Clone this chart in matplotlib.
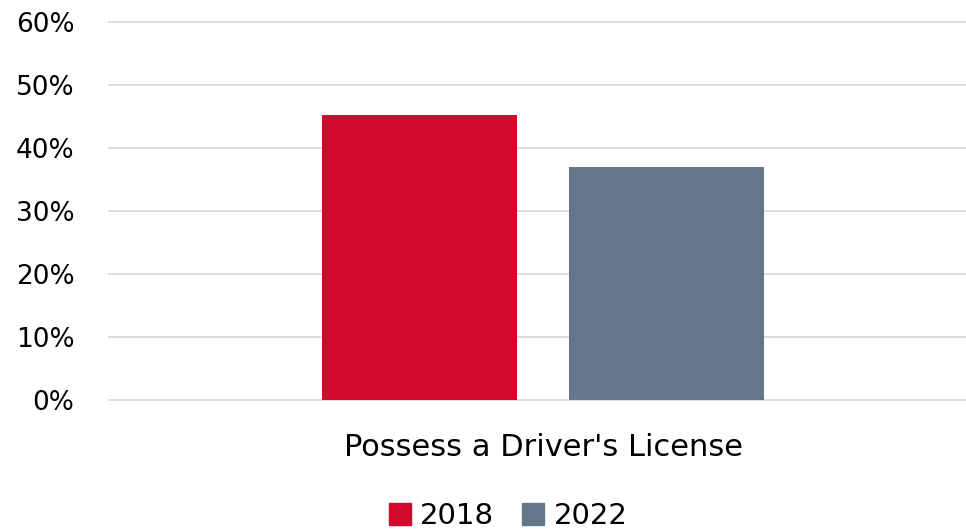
import numpy as np
import matplotlib.pyplot as plt
from matplotlib.patches import Patch
from matplotlib.ticker import PercentFormatter

plt.rcParams['font.family'] = ['DejaVu Sans']

# Data
categories = ["Possess a Driver's License"]
years = ["2018", "2022"]
values_2018 = [45.2]
values_2022 = [37.0]
colors = ["#D10A2C", "#64768A"]

fig = plt.figure(figsize=(9.66, 5.30), dpi=100)
ax = fig.add_axes([109 / 966, 130 / 530, 868 / 966, 378 / 530])

x = np.arange(len(categories))
width = 0.2247
offset = 0.1423
ax.bar(x - offset, values_2018, width, color=colors[0], zorder=3)
ax.bar(x + offset, values_2022, width, color=colors[1], zorder=3)

ax.set_xlim(-0.5, 0.5)
ax.set_ylim(0, 60)
ax.set_yticks(np.arange(0, 61, 10))
ax.yaxis.set_major_formatter(PercentFormatter(decimals=0))
ax.grid(axis="y", color="#D9D9D9", linewidth=1.3, zorder=0)
for gl in ax.get_ygridlines():
    gl.set_clip_on(False)
ax.set_xticks(x)
ax.set_xticklabels(categories)
ax.tick_params(axis="both", length=0, colors="black")
ax.tick_params(axis="y", pad=25, labelsize=19)
ax.tick_params(axis="x", pad=24, labelsize=22)
for s in ax.spines.values():
    s.set_visible(False)

handles = [Patch(color=c, label=y) for c, y in zip(colors, years)]
fig.legend(handles=handles, loc="lower center", bbox_to_anchor=(508 / 966, -0.05),
           ncol=2, frameon=False, fontsize=21, handlelength=0.76, handleheight=0.76,
           handletextpad=0.31, columnspacing=0.97)

plt.savefig("out.png", dpi=100)
